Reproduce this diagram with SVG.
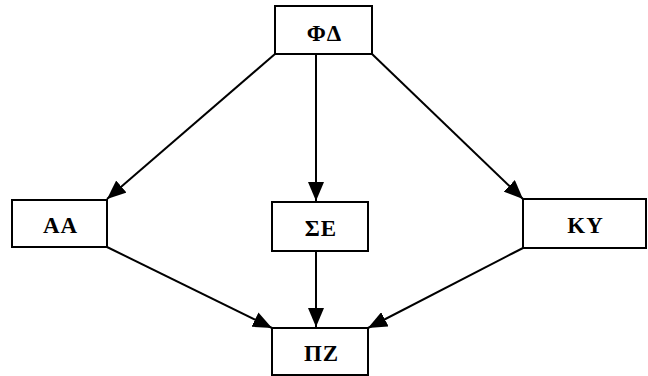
<svg xmlns="http://www.w3.org/2000/svg" width="648" height="376" viewBox="0 0 648 376">
  <style>
    .box { fill: #fff; stroke: #000; stroke-width: 2; }
    .lbl { font-family: 'Liberation Serif', 'Times New Roman', serif; font-weight: 700; font-size: 23px; letter-spacing: 1px; fill: #000; text-anchor: middle; }
    .edge { stroke: #000; stroke-width: 2; fill: none; marker-end: url(#arrow); }
  </style>
  <defs>
    <marker id="arrow" markerUnits="userSpaceOnUse" markerWidth="20" markerHeight="16" refX="19" refY="8" orient="auto">
      <path d="M0,0 L19,8 L0,16 Z" fill="#000"/>
    </marker>
  </defs>
  <rect width="648" height="376" fill="#fff"/>

  <g id="connectors">
    <line class="edge" x1="275" y1="54" x2="107" y2="199"/>
    <line class="edge" x1="316" y1="54" x2="316" y2="201"/>
    <line class="edge" x1="372" y1="54" x2="523" y2="199"/>
    <line class="edge" x1="107" y1="247" x2="272" y2="328"/>
    <line class="edge" x1="316" y1="251" x2="316" y2="327"/>
    <line class="edge" x1="523" y1="248" x2="368" y2="328"/>
  </g>

  <g id="node-fd">
    <rect class="box" x="275" y="6" width="97" height="48"/>
    <text class="lbl" x="324.5" y="41">ΦΔ</text>
  </g>
  <g id="node-aa">
    <rect class="box" x="12" y="200" width="95" height="47"/>
    <text class="lbl" x="60.5" y="233">AA</text>
  </g>
  <g id="node-se">
    <rect class="box" x="272" y="202" width="96" height="49"/>
    <text class="lbl" x="321" y="236">ΣΕ</text>
  </g>
  <g id="node-ky">
    <rect class="box" x="523" y="199" width="123" height="49"/>
    <text class="lbl" x="585.5" y="233">KY</text>
  </g>
  <g id="node-pz">
    <rect class="box" x="272" y="328" width="96" height="47"/>
    <text class="lbl" x="321.5" y="361">ΠΖ</text>
  </g>
</svg>
